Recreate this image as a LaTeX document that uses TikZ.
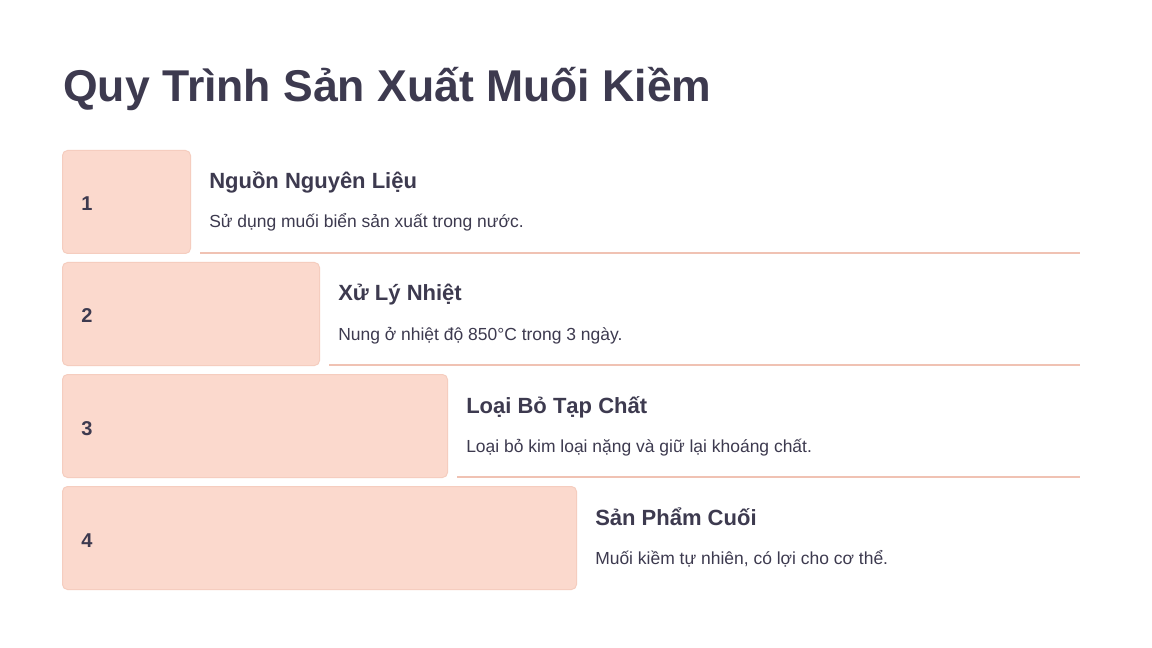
\documentclass[tikz,border=0pt]{standalone}
\usepackage{fontspec}
\setmainfont{Liberation Sans}
\usetikzlibrary{positioning}
\definecolor{ink}{HTML}{3D3A4F}
\definecolor{peach}{HTML}{FBD9CD}
\definecolor{peachedge}{HTML}{F5CDBF}
\definecolor{peachrule}{HTML}{F0C2B3}
\begin{document}
\begin{tikzpicture}[x=0.75pt,y=-0.75pt,
  stepbox/.style={draw=peachedge,fill=peach,line width=0.75pt,rounded corners=3.75pt,
    anchor=north west,inner sep=0pt,minimum height=77.25pt},
  num/.style={text=ink,font=\bfseries\fontsize{15}{18}\selectfont,anchor=base west,inner sep=0pt},
  head/.style={text=ink,font=\bfseries\fontsize{16.5}{20}\selectfont,anchor=base west,inner sep=0pt},
  desc/.style={text=ink,font=\fontsize{13.1}{16}\selectfont,anchor=base west,inner sep=0pt},
  sep/.style={draw=peachrule,line width=1.1pt}]
\fill[white] (0,0) rectangle (1152,648);
\useasboundingbox (0,0) rectangle (1152,648);
\node[text=ink,font=\bfseries\fontsize{33.4}{40}\selectfont,anchor=base west,inner sep=0pt]
  (title) at (63,102) {Quy Trình Sản Xuất Muối Kiềm};
\foreach \i/\r/\t/\d in {
  1/190/{Nguồn Nguyên Liệu}/{Sử dụng muối biển sản xuất trong nước.},
  2/319/{Xử Lý Nhiệt}/{Nung ở nhiệt độ 850°C trong 3 ngày.},
  3/447/{Loại Bỏ Tạp Chất}/{Loại bỏ kim loại nặng và giữ lại khoáng chất.},
  4/576/{Sản Phẩm Cuối}/{Muối kiềm tự nhiên, có lợi cho cơ thể.}}
{
  \pgfmathsetmacro{\top}{150+112*(\i-1)}
  \node[stepbox,minimum width={(\r-62)*0.75pt}] (b\i) at (62,\top) {};
  \node[num] (n\i) at (81,\top+61) {\i};
  \node[head] (h\i) at (\r+19,\top+39) {\t};
  \node[desc] (d\i) at (\r+19,\top+78) {\d};
  \ifnum\i<4
    \coordinate (s\i) at (\r+10,\top+103);
    \coordinate (e\i) at (1080,\top+103);
    \draw[sep] (s\i) -- (e\i);
  \fi
}
\end{tikzpicture}
\end{document}
